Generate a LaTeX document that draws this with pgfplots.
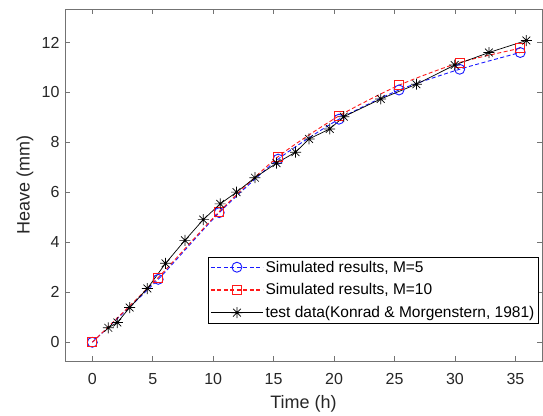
\documentclass[border=0pt]{standalone}
\usepackage{pgfplots}
\pgfplotsset{compat=1.18}
\usepackage{fontspec}
\setmainfont{Liberation Sans}
\pgfdeclareplotmark{mstar}{%
  \pgfpathmoveto{\pgfpoint{-\pgfplotmarksize}{0pt}}\pgfpathlineto{\pgfpoint{\pgfplotmarksize}{0pt}}%
  \pgfpathmoveto{\pgfpoint{0pt}{-\pgfplotmarksize}}\pgfpathlineto{\pgfpoint{0pt}{\pgfplotmarksize}}%
  \pgfpathmoveto{\pgfpoint{-0.707\pgfplotmarksize}{-0.707\pgfplotmarksize}}\pgfpathlineto{\pgfpoint{0.707\pgfplotmarksize}{0.707\pgfplotmarksize}}%
  \pgfpathmoveto{\pgfpoint{-0.707\pgfplotmarksize}{0.707\pgfplotmarksize}}\pgfpathlineto{\pgfpoint{0.707\pgfplotmarksize}{-0.707\pgfplotmarksize}}%
  \pgfusepathqstroke}
\definecolor{axgray}{gray}{0.45}
\definecolor{txt}{gray}{0.15}
\definecolor{mblue}{rgb}{0.1,0.1,1}
\definecolor{mred}{rgb}{1,0.1,0.1}
\begin{document}
\begin{tikzpicture}
\path[use as bounding box] (-65pt,-54pt) rectangle (478pt,361pt);
\begin{axis}[
  at={(0pt,0pt)}, anchor=south west,
  scale only axis, width=477pt, height=351.7pt,
  xmin=-2.26, xmax=37.2, ymin=-0.75, ymax=13.33,
  xtick={0,5,...,35}, ytick={0,2,...,12},
  tick align=inside, major tick length=5pt,
  axis line style={axgray, line width=0.6pt},
  tick style={axgray, line width=0.6pt},
  ticklabel style={font=\fontsize{16}{19}\selectfont, text=txt},
  xticklabel style={yshift=-9pt},
  yticklabel style={xshift=-2pt},
  /pgf/number format/assume math mode=true,
  xlabel={Time (h)}, ylabel={Heave (mm)},
  label style={font=\fontsize{18}{21}\selectfont, text=txt},
  xlabel style={at={(axis description cs:0.5,-0.1223)}, anchor=center},
  ylabel style={at={(axis description cs:-0.0839,0.5)}, anchor=center},
  legend style={at={(0.993,0.297)}, anchor=north east, line width=0.6pt,
    font=\fontsize{15.5}{18.5}\selectfont, row sep=6pt, inner sep=2pt,
    cells={anchor=west}},
]
\addplot[color=mblue, dash pattern=on 4pt off 2.5pt, line width=0.9pt, smooth, tension=0.4, mark=o, mark size=5pt, mark options={solid},
  legend image code/.code={\color{mblue}\pgfsetstrokecolor{mblue}\pgfsetdash{{4pt}{2.5pt}}{0pt}\pgfsetlinewidth{1.2pt}%
    \pgfpathmoveto{\pgfpoint{0pt}{0pt}}\pgfpathlineto{\pgfpoint{52pt}{0pt}}\pgfusepath{stroke}%
    \pgfsetdash{}{0pt}\pgfsetlinewidth{0.9pt}\pgfpathcircle{\pgfpoint{26pt}{0pt}}{5pt}\pgfusepath{stroke}}] coordinates {
(0,0) (5.45,2.52) (10.5,5.19) (15.37,7.33) (20.4,8.93) (25.37,10.1) (30.39,10.93) (35.4,11.6)};
\addlegendentry{Simulated results, M=5}
\addplot[color=mred, dash pattern=on 4pt off 2.5pt, line width=0.9pt, smooth, tension=0.4, mark=square, mark size=4.5pt, mark options={solid},
  legend image code/.code={\color{mred}\pgfsetstrokecolor{mred}\pgfsetdash{{4pt}{2.5pt}}{0pt}\pgfsetlinewidth{1.2pt}%
    \pgfpathmoveto{\pgfpoint{0pt}{0pt}}\pgfpathlineto{\pgfpoint{52pt}{0pt}}\pgfusepath{stroke}%
    \pgfsetdash{}{0pt}\pgfsetlinewidth{0.9pt}\pgfpathrectangle{\pgfpoint{21.5pt}{-4.5pt}}{\pgfpoint{9pt}{9pt}}\pgfusepath{stroke}}] coordinates {
(0,0) (5.45,2.59) (10.5,5.23) (15.37,7.43) (20.4,9.06) (25.37,10.29) (30.39,11.2) (35.4,11.77)};
\addlegendentry{Simulated results, M=10}
\addplot[black, line width=0.7pt, mark=mstar, mark size=5.5pt,
  legend image code/.code={\draw[mark repeat=2,mark phase=2] plot coordinates {(0pt,0pt) (26pt,0pt) (52pt,0pt)};}] coordinates {
(1.32,0.58) (2.07,0.79) (3.09,1.39) (4.55,2.15) (6.06,3.16) (7.66,4.08) (9.18,4.91) (10.58,5.54)
(11.93,6.01) (13.45,6.59) (15.24,7.17) (16.81,7.61) (17.93,8.14) (19.64,8.54) (20.8,9.03)
(23.86,9.74) (26.81,10.33) (29.98,11.1) (32.81,11.6) (35.9,12.08)};
\addlegendentry{test data(Konrad \& Morgenstern, 1981)}
\end{axis}
\end{tikzpicture}
\end{document}
